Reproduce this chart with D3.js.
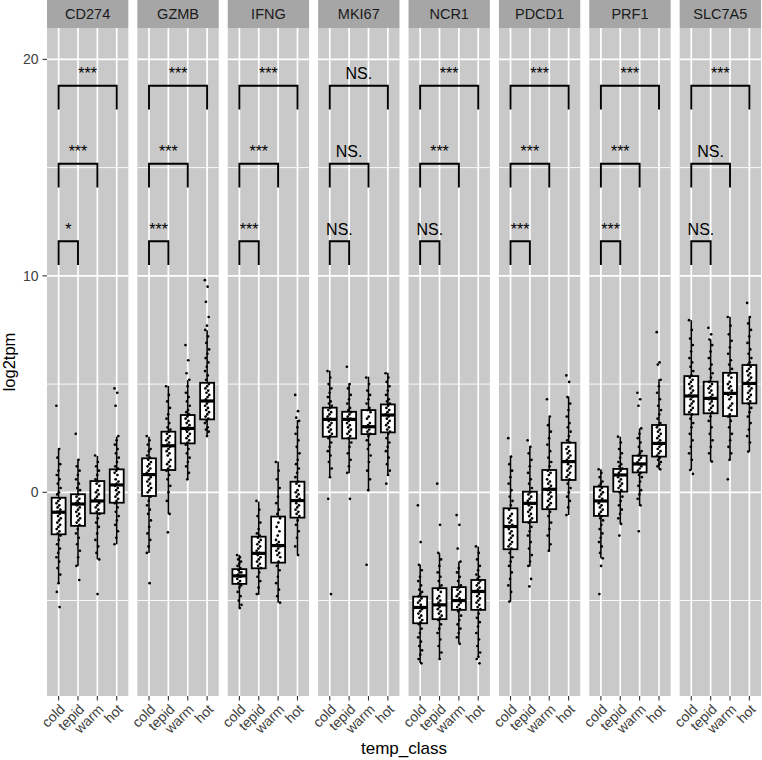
<!DOCTYPE html>
<html>
<head>
<meta charset="utf-8">
<script src="https://cdn.jsdelivr.net/npm/d3@7"></script>
<style>
  body { margin: 0; background: #fff; }
  svg { display: block; font-family: "Liberation Sans", Arial, sans-serif; }
</style>
</head>
<body>
<div id="chart"></div>
<script>
// facets and groups
var genes = ['CD274', 'GZMB', 'IFNG', 'MKI67', 'NCR1', 'PDCD1', 'PRF1', 'SLC7A5'];
var tempClasses = ['cold', 'tepid', 'warm', 'hot'];
var yTicks = [0, 10, 20];
var yMinor = [-5, 5, 15];

// box statistics, one row per gene, one column per temp class
var lowerWhisker = [
  [-4.2, -3.4, -3.1, -2.4], [-2.8, -1.0, 0.6, 2.6], [-5.35, -4.74, -5.1, -2.9], [0.68, 0.88, 0.11, 0.8],
  [-7.89, -7.74, -6.97, -7.58], [-5.05, -3.43, -2.74, -1.05], [-3.05, -1.46, -0.63, 1.06], [1.03, 1.42, 1.49, 1.88]
];
var q1 = [
  [-1.94, -1.55, -0.97, -0.48], [-0.17, 1.03, 2.26, 3.37], [-4.23, -3.51, -3.25, -1.17], [2.57, 2.49, 2.69, 2.77],
  [-6.05, -5.86, -5.43, -5.43], [-2.63, -1.38, -0.78, 0.57], [-1.09, 0.03, 0.92, 1.65], [3.6, 3.65, 3.52, 4.11]
];
var median = [
  [-0.92, -0.54, -0.4, 0.34], [0.82, 2.15, 2.95, 4.22], [-3.86, -2.82, -2.46, -0.38], [3.37, 3.37, 3.03, 3.57],
  [-5.32, -5.2, -5.0, -4.58], [-1.58, -0.51, 0.14, 1.42], [-0.4, 0.8, 1.31, 2.26], [4.45, 4.34, 4.57, 5.03]
];
var q3 = [
  [-0.25, -0.09, 0.52, 1.06], [1.57, 2.8, 3.57, 5.06], [-3.55, -2.05, -1.12, 0.49], [3.91, 3.72, 3.8, 4.06],
  [-4.82, -4.43, -4.38, -4.05], [-0.74, 0.03, 1.03, 2.29], [0.26, 1.08, 1.69, 3.11], [5.37, 5.11, 5.52, 5.88]
];
var upperWhisker = [
  [2.03, 1.52, 1.68, 2.57], [2.57, 4.91, 5.18, 7.49], [-2.89, -0.43, 1.42, 3.34], [5.62, 5.03, 5.34, 5.52],
  [-3.35, -2.82, -3.2, -2.51], [1.65, 2.11, 3.46, 4.42], [1.06, 2.57, 2.95, 5.22], [7.95, 7.06, 8.11, 8.11]
];

// significance labels: cold vs hot, cold vs warm, cold vs tepid
var sigHot = ['***', '***', '***', 'NS.', '***', '***', '***', '***'];
var sigWarm = ['***', '***', '***', 'NS.', '***', '***', '***', 'NS.'];
var sigTepid = ['*', '***', '***', 'NS.', 'NS.', '***', '***', 'NS.'];

// log2tpm per sample
var ptsCD274 = [
  [4.0, 2.0, 1.6, 1.3, 1.0, 0.8, 0.6, 0.4, 0.2, 0.0, -0.1, -0.3, -0.4, -0.5, -0.6, -0.7, -0.8, -0.9, -0.9, -1.0, -1.1, -1.2, -1.3, -1.4, -1.5, -1.6, -1.7, -1.8, -1.9, -2.0, -2.2, -2.4, -2.6, -2.8, -3.0, -3.2, -3.5, -3.8, -4.2, -4.6, -5.3],
  [2.7, 1.5, 1.2, 1.0, 0.8, 0.6, 0.4, 0.2, 0.1, -0.1, -0.2, -0.3, -0.4, -0.5, -0.5, -0.6, -0.7, -0.8, -0.9, -1.0, -1.1, -1.2, -1.3, -1.4, -1.5, -1.7, -1.9, -2.1, -2.4, -2.7, -3.0, -3.4, -4.05],
  [1.7, 1.4, 1.2, 1.0, 0.8, 0.6, 0.5, 0.4, 0.3, 0.1, 0.0, -0.1, -0.2, -0.3, -0.4, -0.4, -0.5, -0.6, -0.7, -0.8, -0.9, -1.0, -1.2, -1.4, -1.6, -1.9, -2.2, -2.5, -2.8, -3.1, -4.7],
  [4.8, 4.6, 4.0, 2.6, 2.4, 2.2, 2.0, 1.8, 1.6, 1.4, 1.2, 1.1, 1.0, 0.9, 0.8, 0.6, 0.5, 0.4, 0.3, 0.2, 0.1, 0.0, -0.1, -0.2, -0.3, -0.4, -0.5, -0.7, -0.9, -1.1, -1.3, -1.5, -1.8, -2.1, -2.4]
];
var ptsGZMB = [
  [2.6, 2.4, 2.2, 2.0, 1.9, 1.7, 1.6, 1.5, 1.4, 1.3, 1.2, 1.1, 1.0, 0.9, 0.8, 0.8, 0.7, 0.6, 0.5, 0.4, 0.3, 0.2, 0.1, 0.0, -0.2, -0.4, -0.6, -0.8, -1.0, -1.3, -1.6, -1.9, -2.2, -2.5, -2.8, -4.2],
  [4.9, 4.5, 4.2, 3.9, 3.6, 3.4, 3.2, 3.0, 2.9, 2.8, 2.7, 2.6, 2.5, 2.4, 2.3, 2.2, 2.1, 2.0, 1.9, 1.8, 1.7, 1.5, 1.4, 1.3, 1.2, 1.1, 1.0, 0.8, 0.6, 0.3, 0.0, -0.4, -1.0, -1.85],
  [6.8, 6.1, 5.5, 5.2, 4.9, 4.6, 4.4, 4.2, 4.0, 3.8, 3.7, 3.6, 3.5, 3.4, 3.3, 3.2, 3.1, 3.0, 2.9, 2.9, 2.8, 2.7, 2.6, 2.5, 2.4, 2.3, 2.2, 2.0, 1.8, 1.6, 1.4, 1.2, 0.9, 0.6],
  [9.8, 9.5, 8.8, 8.1, 7.7, 7.5, 7.2, 6.9, 6.6, 6.4, 6.2, 6.0, 5.8, 5.6, 5.4, 5.2, 5.0, 4.9, 4.8, 4.7, 4.6, 4.5, 4.4, 4.3, 4.2, 4.1, 4.0, 3.9, 3.8, 3.7, 3.6, 3.5, 3.4, 3.3, 3.2, 3.0, 2.9, 2.8, 2.6]
];
var ptsIFNG = [
  [-2.9, -3.0, -3.1, -3.2, -3.3, -3.4, -3.5, -3.6, -3.7, -3.7, -3.8, -3.9, -3.9, -4.0, -4.1, -4.2, -4.3, -4.4, -4.6, -4.8, -5.0, -5.2, -5.35],
  [-0.4, -0.8, -1.1, -1.4, -1.7, -1.9, -2.0, -2.1, -2.2, -2.3, -2.4, -2.5, -2.6, -2.7, -2.8, -2.9, -3.0, -3.1, -3.2, -3.3, -3.4, -3.5, -3.7, -3.9, -4.1, -4.4, -4.7],
  [1.4, 1.0, 0.6, 0.2, -0.2, -0.5, -0.8, -1.0, -1.2, -1.4, -1.6, -1.8, -2.0, -2.2, -2.3, -2.4, -2.5, -2.6, -2.7, -2.8, -2.9, -3.0, -3.2, -3.4, -3.6, -3.9, -4.2, -4.5, -4.8, -5.1],
  [4.5, 3.75, 3.45, 3.3, 3.0, 2.7, 2.4, 2.1, 1.8, 1.5, 1.3, 1.1, 0.9, 0.7, 0.5, 0.4, 0.3, 0.1, 0.0, -0.1, -0.2, -0.3, -0.4, -0.5, -0.6, -0.7, -0.8, -0.9, -1.0, -1.1, -1.3, -1.5, -1.8, -2.1, -2.5, -2.9]
];
var ptsMKI67 = [
  [5.6, 5.3, 5.0, 4.8, 4.6, 4.4, 4.2, 4.1, 4.0, 3.9, 3.8, 3.7, 3.6, 3.5, 3.4, 3.3, 3.2, 3.1, 3.0, 2.9, 2.8, 2.7, 2.6, 2.5, 2.3, 2.1, 1.9, 1.7, 1.4, 1.1, 0.7, -0.3, -4.7],
  [5.8, 5.0, 4.8, 4.5, 4.3, 4.1, 3.9, 3.8, 3.7, 3.6, 3.5, 3.4, 3.3, 3.2, 3.1, 3.0, 2.9, 2.8, 2.7, 2.6, 2.5, 2.3, 2.1, 1.8, 1.5, 1.2, 0.9, -0.3],
  [5.3, 5.0, 4.7, 4.5, 4.3, 4.1, 3.9, 3.8, 3.7, 3.5, 3.4, 3.2, 3.1, 3.0, 2.9, 2.8, 2.7, 2.6, 2.4, 2.2, 2.0, 1.7, 1.4, 1.0, 0.6, 0.1, -3.35],
  [5.5, 5.3, 5.1, 4.9, 4.7, 4.5, 4.3, 4.2, 4.1, 4.0, 3.9, 3.8, 3.7, 3.6, 3.5, 3.4, 3.3, 3.2, 3.1, 3.0, 2.9, 2.8, 2.7, 2.5, 2.3, 2.1, 1.9, 1.6, 1.3, 1.0, 0.8, 0.4]
];
var ptsNCR1 = [
  [-0.6, -2.3, -3.35, -3.6, -3.9, -4.1, -4.3, -4.5, -4.6, -4.7, -4.8, -4.9, -5.0, -5.1, -5.2, -5.3, -5.4, -5.5, -5.6, -5.7, -5.8, -5.9, -6.0, -6.1, -6.3, -6.5, -6.7, -6.9, -7.1, -7.3, -7.5, -7.7, -7.9],
  [0.4, -1.5, -2.8, -3.1, -3.4, -3.7, -3.9, -4.1, -4.3, -4.4, -4.5, -4.6, -4.8, -4.9, -5.0, -5.1, -5.2, -5.3, -5.4, -5.5, -5.6, -5.7, -5.8, -5.9, -6.1, -6.3, -6.5, -6.8, -7.1, -7.4, -7.7],
  [-1.05, -1.5, -2.6, -3.2, -3.5, -3.7, -3.9, -4.1, -4.3, -4.4, -4.5, -4.6, -4.7, -4.8, -4.9, -5.0, -5.1, -5.2, -5.3, -5.4, -5.5, -5.7, -5.9, -6.1, -6.3, -6.5, -6.7, -7.0],
  [-2.5, -2.8, -3.1, -3.4, -3.6, -3.8, -3.9, -4.0, -4.1, -4.2, -4.3, -4.4, -4.5, -4.6, -4.7, -4.8, -4.9, -5.0, -5.1, -5.2, -5.3, -5.4, -5.6, -5.8, -6.0, -6.2, -6.5, -6.8, -7.1, -7.4, -7.6, -7.7, -7.9]
];
var ptsPDCD1 = [
  [2.5, 1.65, 1.3, 1.0, 0.7, 0.4, 0.1, -0.2, -0.4, -0.6, -0.8, -1.0, -1.1, -1.2, -1.3, -1.4, -1.5, -1.6, -1.7, -1.8, -1.9, -2.0, -2.1, -2.2, -2.3, -2.4, -2.5, -2.6, -2.8, -3.0, -3.2, -3.4, -3.7, -4.0, -4.3, -4.6, -5.05],
  [2.4, 2.1, 1.8, 1.5, 1.2, 0.9, 0.6, 0.4, 0.2, 0.0, -0.1, -0.2, -0.3, -0.4, -0.5, -0.6, -0.7, -0.8, -0.9, -1.0, -1.1, -1.2, -1.3, -1.4, -1.6, -1.8, -2.0, -2.3, -2.6, -2.9, -3.2, -3.4, -4.0, -4.35],
  [4.3, 3.5, 3.1, 2.8, 2.5, 2.2, 1.9, 1.6, 1.4, 1.2, 1.0, 0.9, 0.8, 0.6, 0.5, 0.4, 0.3, 0.2, 0.1, 0.0, -0.1, -0.2, -0.3, -0.4, -0.5, -0.6, -0.7, -0.9, -1.1, -1.4, -1.7, -2.0, -2.4, -2.7],
  [5.4, 5.1, 4.4, 4.1, 3.8, 3.5, 3.2, 3.0, 2.8, 2.6, 2.4, 2.3, 2.1, 2.0, 1.9, 1.8, 1.7, 1.6, 1.5, 1.4, 1.3, 1.2, 1.1, 1.0, 0.9, 0.8, 0.7, 0.6, 0.4, 0.2, 0.0, -0.2, -0.4, -0.7, -1.05]
];
var ptsPRF1 = [
  [1.06, 0.9, 0.7, 0.5, 0.4, 0.3, 0.2, 0.1, 0.0, -0.1, -0.2, -0.3, -0.4, -0.5, -0.6, -0.7, -0.8, -0.9, -1.0, -1.1, -1.2, -1.3, -1.5, -1.7, -1.9, -2.1, -2.3, -2.5, -2.8, -3.05, -3.4, -4.7],
  [2.57, 2.3, 2.0, 1.8, 1.6, 1.4, 1.3, 1.2, 1.1, 1.0, 0.9, 0.8, 0.8, 0.7, 0.6, 0.5, 0.4, 0.3, 0.2, 0.1, 0.0, -0.2, -0.4, -0.6, -0.8, -1.0, -1.2, -1.46, -2.0],
  [4.6, 4.3, 4.0, 2.95, 2.7, 2.5, 2.3, 2.1, 1.9, 1.8, 1.7, 1.6, 1.5, 1.4, 1.3, 1.3, 1.2, 1.1, 1.0, 0.9, 0.8, 0.7, 0.5, 0.3, 0.1, -0.1, -0.3, -0.6, -1.8],
  [7.4, 6.0, 5.9, 5.2, 4.9, 4.6, 4.3, 4.0, 3.8, 3.6, 3.4, 3.2, 3.1, 3.0, 2.9, 2.8, 2.7, 2.6, 2.5, 2.4, 2.3, 2.2, 2.1, 2.0, 1.9, 1.8, 1.7, 1.6, 1.5, 1.4, 1.3, 1.2, 1.06]
];
var ptsSLC7A5 = [
  [7.95, 7.5, 7.1, 6.8, 6.5, 6.2, 6.0, 5.8, 5.6, 5.4, 5.3, 5.2, 5.1, 5.0, 4.9, 4.8, 4.7, 4.6, 4.5, 4.4, 4.3, 4.2, 4.1, 4.0, 3.9, 3.8, 3.7, 3.6, 3.4, 3.2, 3.0, 2.7, 2.4, 2.1, 1.8, 1.5, 1.03, 0.85],
  [7.6, 7.3, 7.06, 6.8, 6.5, 6.2, 5.9, 5.7, 5.5, 5.3, 5.1, 5.0, 4.9, 4.8, 4.7, 4.6, 4.5, 4.4, 4.3, 4.2, 4.1, 4.0, 3.9, 3.8, 3.7, 3.5, 3.3, 3.0, 2.7, 2.4, 2.1, 1.8, 1.42],
  [8.1, 7.7, 7.3, 7.0, 6.7, 6.4, 6.1, 5.9, 5.7, 5.5, 5.4, 5.3, 5.1, 5.0, 4.9, 4.8, 4.7, 4.6, 4.5, 4.4, 4.3, 4.1, 4.0, 3.9, 3.8, 3.6, 3.5, 3.3, 3.0, 2.7, 2.4, 2.1, 1.8, 1.5, 0.6],
  [8.75, 8.1, 7.8, 7.5, 7.2, 6.9, 6.6, 6.4, 6.2, 6.0, 5.9, 5.8, 5.7, 5.6, 5.5, 5.4, 5.3, 5.2, 5.1, 5.0, 4.9, 4.8, 4.7, 4.6, 4.5, 4.4, 4.3, 4.2, 4.1, 3.9, 3.7, 3.5, 3.2, 2.9, 2.6, 2.3, 1.88]
];
var points = [ptsCD274, ptsGZMB, ptsIFNG, ptsMKI67, ptsNCR1, ptsPDCD1, ptsPRF1, ptsSLC7A5];

var W = 762, H = 760;
var stripTop = 0, stripH = 28, panelTop = 28, panelBottom = 696;
var panelBg = '#c9c9c9', stripBg = '#a6a6a6';

var svg = d3.select('#chart').append('svg')
    .attr('width', W)
    .attr('height', H);

// y scale shared by all facets
var y = d3.scaleLinear().domain([-9.41, 21.45]).range([panelBottom, panelTop]);

// facet positions
var facet = d3.scaleBand().domain(genes).range([47, 761]).paddingInner(0.1);
var bw = facet.bandwidth();
var x = d3.scalePoint().domain(tempClasses).range([0, bw]).padding(0.6);
var boxW = x.step() * 0.72;

// bracket heights (data units) and leg length
var bracketLevels = [18.78, 15.18, 11.6];
var legLen = 1.1;

genes.forEach(function(g, gi) {
    var p = svg.append('g').attr('transform', 'translate(' + facet(g) + ',0)');

    // panel background
    p.append('rect')
        .attr('x', 0).attr('y', panelTop)
        .attr('width', bw).attr('height', panelBottom - panelTop)
        .attr('fill', panelBg);

    // grid
    p.selectAll('.minor').data(yMinor).enter().append('line')
        .attr('x1', 0).attr('x2', bw)
        .attr('y1', function(d) { return y(d); }).attr('y2', function(d) { return y(d); })
        .attr('stroke', '#fff').attr('stroke-width', 0.9);
    p.selectAll('.major').data(yTicks).enter().append('line')
        .attr('x1', 0).attr('x2', bw)
        .attr('y1', function(d) { return y(d); }).attr('y2', function(d) { return y(d); })
        .attr('stroke', '#fff').attr('stroke-width', 1.7);
    p.selectAll('.vgrid').data(tempClasses).enter().append('line')
        .attr('x1', function(d) { return x(d); }).attr('x2', function(d) { return x(d); })
        .attr('y1', panelTop).attr('y2', panelBottom)
        .attr('stroke', '#fff').attr('stroke-width', 1.7);

    // strip
    p.append('rect')
        .attr('x', 0).attr('y', stripTop)
        .attr('width', bw).attr('height', stripH)
        .attr('fill', stripBg);
    p.append('text')
        .attr('x', bw / 2).attr('y', stripTop + stripH / 2)
        .attr('dy', '0.36em')
        .attr('text-anchor', 'middle')
        .attr('font-size', 14.5)
        .attr('fill', '#1a1a1a')
        .text(g);

    // boxplots
    tempClasses.forEach(function(c, ci) {
        var cx = x(c);
        p.append('line')
            .attr('x1', cx).attr('x2', cx)
            .attr('y1', y(upperWhisker[gi][ci])).attr('y2', y(lowerWhisker[gi][ci]))
            .attr('stroke', '#000').attr('stroke-width', 1.6);
        p.append('rect')
            .attr('x', cx - boxW / 2).attr('y', y(q3[gi][ci]))
            .attr('width', boxW).attr('height', y(q1[gi][ci]) - y(q3[gi][ci]))
            .attr('fill', '#fff').attr('stroke', '#000').attr('stroke-width', 1.8);
        p.append('line')
            .attr('x1', cx - boxW / 2).attr('x2', cx + boxW / 2)
            .attr('y1', y(median[gi][ci])).attr('y2', y(median[gi][ci]))
            .attr('stroke', '#000').attr('stroke-width', 3.2);
    });

    // jittered points on top
    tempClasses.forEach(function(c, ci) {
        var cx = x(c);
        p.selectAll('.pt' + ci).data(points[gi][ci]).enter().append('circle')
            .attr('cx', function(d, i) { return cx + (((i * 0.618034) % 1) - 0.5) * 4.5; })
            .attr('cy', function(d) { return y(d); })
            .attr('r', 1.35)
            .attr('fill', '#000');
    });

    // significance brackets
    var labels = [sigHot[gi], sigWarm[gi], sigTepid[gi]];
    var ends = ['hot', 'warm', 'tepid'];
    bracketLevels.forEach(function(lv, li) {
        var x0 = x('cold'), x1 = x(ends[li]);
        p.append('path')
            .attr('d', 'M' + x0 + ',' + y(lv - legLen) + 'V' + y(lv) + 'H' + x1 + 'V' + y(lv - legLen))
            .attr('fill', 'none').attr('stroke', '#000').attr('stroke-width', 1.9);
        p.append('text')
            .attr('x', (x0 + x1) / 2).attr('y', y(lv) - 6.5)
            .attr('text-anchor', 'middle')
            .attr('font-size', 16)
            .attr('fill', '#000')
            .text(labels[li]);
    });

    // x axis ticks and labels
    tempClasses.forEach(function(c) {
        p.append('line')
            .attr('x1', x(c)).attr('x2', x(c))
            .attr('y1', panelBottom).attr('y2', panelBottom + 4.5)
            .attr('stroke', '#333').attr('stroke-width', 1.1);
        p.append('text')
            .attr('transform', 'translate(' + x(c) + ',' + (panelBottom + 7) + ') rotate(-45)')
            .attr('dy', '0.72em')
            .attr('text-anchor', 'end')
            .attr('font-size', 14)
            .attr('fill', '#404040')
            .text(c);
    });
});

// y axis
var yAxis = svg.append('g');
yTicks.forEach(function(t) {
    yAxis.append('line')
        .attr('x1', 42.5).attr('x2', 47)
        .attr('y1', y(t)).attr('y2', y(t))
        .attr('stroke', '#333').attr('stroke-width', 1.1);
    yAxis.append('text')
        .attr('x', 38.5).attr('y', y(t))
        .attr('dy', '0.36em')
        .attr('text-anchor', 'end')
        .attr('font-size', 14)
        .attr('fill', '#404040')
        .text(t);
});

// axis titles
svg.append('text')
    .attr('transform', 'translate(15,' + ((panelTop + panelBottom) / 2) + ') rotate(-90)')
    .attr('text-anchor', 'middle')
    .attr('font-size', 16.5)
    .attr('fill', '#000')
    .text('log2tpm');
svg.append('text')
    .attr('x', (47 + 761) / 2).attr('y', 754)
    .attr('text-anchor', 'middle')
    .attr('font-size', 17)
    .attr('fill', '#000')
    .text('temp_class');
</script>
</body>
</html>
